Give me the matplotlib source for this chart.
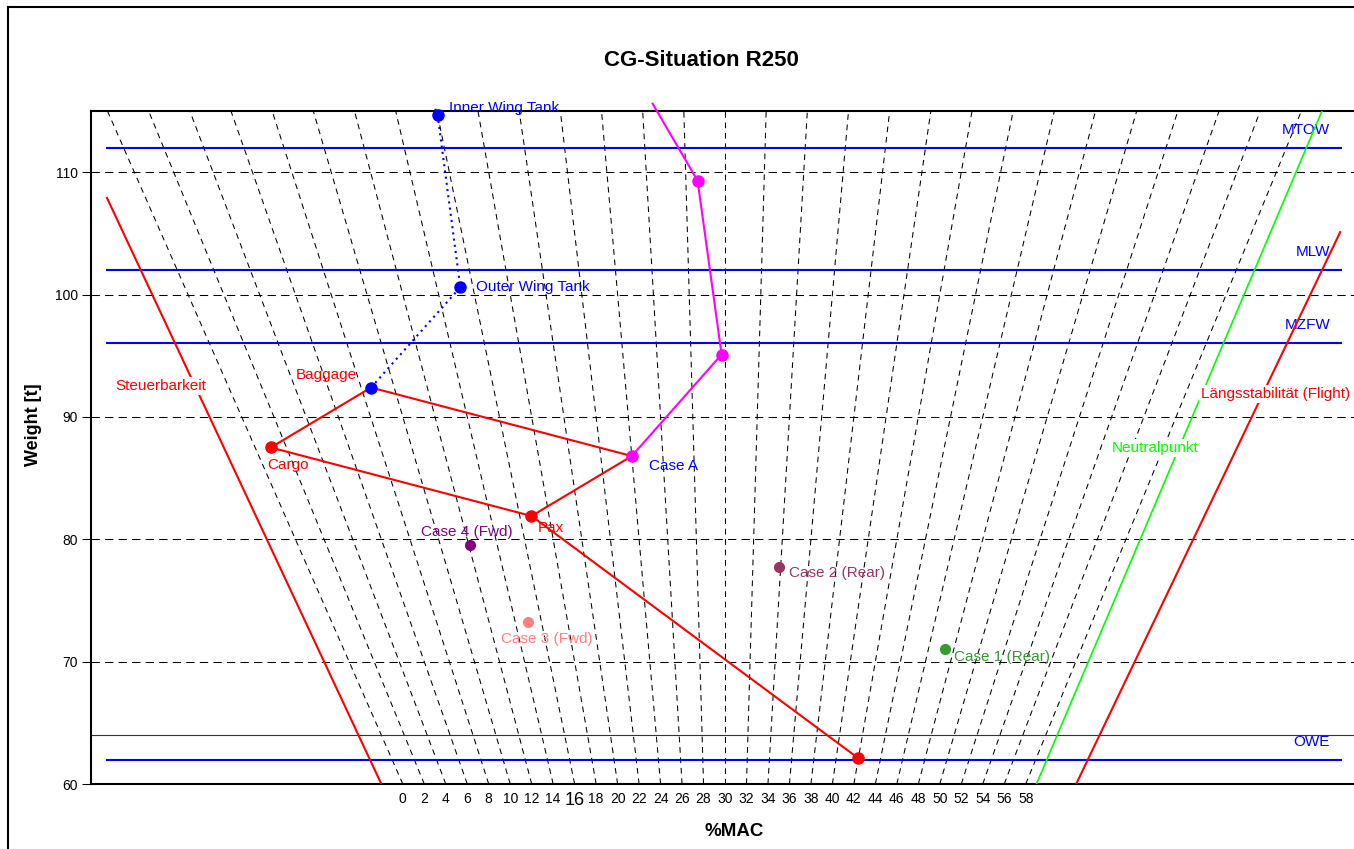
#!/usr/bin/env python3
"""Weight / %MAC loading diagram for the R250 CG situation."""

import matplotlib

matplotlib.use("Agg")
import matplotlib.pyplot as plt
from matplotlib.lines import Line2D

plt.rcParams["font.family"] = ["Liberation Sans", "DejaVu Sans"]

# %MAC fan lines and weight axis
MAC_GRID = list(range(0, 60, 2))
WEIGHT_TICKS = [60, 70, 80, 90, 100, 110]
WEIGHT_RANGE = (60, 115)

# weight limits [t]
LIMIT_NAMES = ["MTOW", "MLW", "MZFW", "OWE"]
LIMIT_WEIGHTS = [112, 102, 96, 62]
REFERENCE_WEIGHT = 64

# CG limit lines, constant %MAC over a weight span
FWD_LIMIT_MAC = -2.0
FWD_LIMIT_WEIGHTS = [60, 107.9]
AFT_LIMIT_MAC = 62.7
AFT_LIMIT_WEIGHTS = [60, 105.1]
NEUTRAL_MAC = 59.0
NEUTRAL_WEIGHTS = [60, 115]

# loading path: empty -> Pax -> Cargo -> Baggage -> Case A -> Pax
LOAD_MAC = [42.0, 16.8, 1.0, 8.6, 24.0, 16.8]
LOAD_WEIGHT = [62.1, 81.9, 87.5, 92.4, 86.8, 81.9]

# fuel: Baggage -> Outer Wing Tank -> Inner Wing Tank
FUEL_MAC = [8.6, 15.3, 16.0, 15.9]
FUEL_WEIGHT = [92.4, 100.6, 114.7, 115.5]

# Case A fuelling branch
CASE_A_MAC = [24.0, 29.8, 28.6, 26.5]
CASE_A_WEIGHT = [86.8, 95.1, 109.3, 115.6]

CASE_NAMES = ["Case 1 (Rear)", "Case 2 (Rear)", "Case 3 (Fwd)", "Case 4 (Fwd)"]
CASE_MAC = [47.3, 33.9, 15.0, 12.1]
CASE_WEIGHT = [71.0, 77.7, 73.2, 79.5]
CASE_COLORS = ["#339933", "#993366", "#FF8080", "#800080"]

MAC_REF = 30.0
XLIM = (-354.2, 351.4)
LIMIT_SPAN = (-345.0, 344.0)

FIG_W, FIG_H = 1354, 849
LABEL_SIZE = 11


def index(mac, weight):
    """Moment index for a CG position given in %MAC."""
    return weight * (mac - MAC_REF) / 10.0


def fx(px):
    return px / FIG_W


def fy(py):
    return 1 - py / FIG_H


def main() -> None:
    fig = plt.figure(figsize=(FIG_W / 100, FIG_H / 100), dpi=100)
    ax = fig.add_axes([fx(91), fy(784), 1 - fx(91), (784 - 111) / FIG_H])
    ax.set_xlim(*XLIM)
    ax.set_ylim(*WEIGHT_RANGE)

    # %MAC fan
    for mac in MAC_GRID:
        ws = list(WEIGHT_RANGE)
        ax.plot([index(mac, w) for w in ws], ws, color="black", lw=0.75,
                dashes=(5.5, 4.5), zorder=1)

    ax.set_yticks(WEIGHT_TICKS)
    ax.yaxis.grid(True, color="black", linewidth=0.75, linestyle=(0, (8, 5)))
    ax.set_axisbelow(True)
    ax.tick_params(axis="y", direction="out", length=6.5, width=0.75, pad=3,
                   labelsize=10)

    ax.set_xticks([index(mac, WEIGHT_RANGE[0]) for mac in MAC_GRID])
    ax.set_xticklabels([str(mac) for mac in MAC_GRID])
    ax.tick_params(axis="x", length=0, pad=6, labelsize=10)
    for label in ax.get_xticklabels():
        if label.get_text() == "16":
            label.set_fontsize(13)

    for side in ("left", "bottom", "top"):
        ax.spines[side].set_linewidth(1.5)
    ax.spines["right"].set_visible(False)

    ax.axhline(REFERENCE_WEIGHT, color="#333333", lw=0.8, zorder=2)

    # weight limits
    for name, w in zip(LIMIT_NAMES, LIMIT_WEIGHTS):
        ax.plot(LIMIT_SPAN, [w, w], color="#0000FF", lw=1.5, zorder=3)
        ax.annotate(name, (338, w), xytext=(0, 18), textcoords="offset pixels",
                    color="#0000FF", fontsize=LABEL_SIZE, ha="right",
                    va="center")

    # CG limits
    ax.plot([index(FWD_LIMIT_MAC, w) for w in FWD_LIMIT_WEIGHTS],
            FWD_LIMIT_WEIGHTS, color="#FF0000", lw=1.5, zorder=3)
    ax.plot([index(AFT_LIMIT_MAC, w) for w in AFT_LIMIT_WEIGHTS],
            AFT_LIMIT_WEIGHTS, color="#FF0000", lw=1.5, zorder=3)
    ax.plot([index(NEUTRAL_MAC, w) for w in NEUTRAL_WEIGHTS],
            NEUTRAL_WEIGHTS, color="#00FF00", lw=1.2, zorder=3)
    box = dict(facecolor="white", edgecolor="none", pad=1.5)
    ax.text(-315.1, 92.5, "Steuerbarkeit", color="#FF0000",
            fontsize=LABEL_SIZE, ha="center", va="center", bbox=box, zorder=4)
    ax.text(307.5, 91.9, "Längsstabilität (Flight)", color="#FF0000",
            fontsize=LABEL_SIZE, ha="center", va="center", bbox=box, zorder=4)
    ax.text(240.2, 87.45, "Neutralpunkt", color="#00FF00",
            fontsize=LABEL_SIZE, ha="center", va="center", bbox=box, zorder=4)

    # loading path
    load_x = [index(m, w) for m, w in zip(LOAD_MAC, LOAD_WEIGHT)]
    ax.plot(load_x, LOAD_WEIGHT, color="#FF0000", lw=1.5, zorder=5)
    ax.plot(load_x[:3], LOAD_WEIGHT[:3], "o", color="#FF0000", ms=8, zorder=6)

    fuel_x = [index(m, w) for m, w in zip(FUEL_MAC, FUEL_WEIGHT)]
    ax.plot(fuel_x, FUEL_WEIGHT, color="#0000FF", lw=1.5,
            linestyle=(0, (1, 2)), zorder=5, clip_on=False)
    ax.plot(fuel_x[:3], FUEL_WEIGHT[:3], "o", color="#0000FF", ms=8, zorder=6,
            clip_on=False)

    case_a_x = [index(m, w) for m, w in zip(CASE_A_MAC, CASE_A_WEIGHT)]
    ax.plot(case_a_x, CASE_A_WEIGHT, color="#FF00FF", lw=1.5, zorder=5,
            clip_on=False)
    ax.plot(case_a_x[:3], CASE_A_WEIGHT[:3], "o", color="#FF00FF", ms=8,
            zorder=6)

    point_labels = [
        ("Pax", load_x[1], LOAD_WEIGHT[1], (6, -12), "left", "#FF0000"),
        ("Cargo", load_x[2], LOAD_WEIGHT[2], (-4, -18), "left", "#FF0000"),
        ("Baggage", load_x[3], LOAD_WEIGHT[3], (-14, 13), "right", "#FF0000"),
        ("Case A", load_x[4], LOAD_WEIGHT[4], (17, -10), "left", "#0000FF"),
        ("Outer Wing Tank", fuel_x[1], FUEL_WEIGHT[1], (16, 0), "left", "#0000FF"),
        ("Inner Wing Tank", fuel_x[2], FUEL_WEIGHT[2], (11, 7), "left", "#0000FF"),
    ]
    for text, x, y, off, ha, color in point_labels:
        ax.annotate(text, (x, y), xytext=off, textcoords="offset pixels",
                    color=color, fontsize=LABEL_SIZE, ha=ha, va="center",
                    annotation_clip=False, zorder=4)

    # check cases
    case_offsets = [(9, -8, "left"), (10, -6, "left"), (18, -17, "center"),
                    (-3, 13, "center")]
    for name, m, w, color, (dx, dy, ha) in zip(CASE_NAMES, CASE_MAC,
                                               CASE_WEIGHT, CASE_COLORS,
                                               case_offsets):
        x = index(m, w)
        ax.plot([x], [w], "o", color=color, ms=7, zorder=6)
        ax.annotate(name, (x, w), xytext=(dx, dy), textcoords="offset pixels",
                    color=color, fontsize=LABEL_SIZE, ha=ha, va="center",
                    zorder=4)

    fig.text(fx(701), fy(61), "CG-Situation R250", fontsize=16,
             fontweight="bold", ha="center", va="center")
    fig.text(fx(734), fy(832), "%MAC", fontsize=13.5, fontweight="bold",
             ha="center", va="center")
    fig.text(fx(34), fy(425), "Weight [t]", fontsize=13, fontweight="bold",
             ha="center", va="center", rotation=90)

    # chart area border
    fig.add_artist(Line2D([fx(8), fx(8)], [0, fy(7)], color="black", lw=1.5))
    fig.add_artist(Line2D([fx(8), 1], [fy(7), fy(7)], color="black", lw=1.5))

    fig.savefig("out.png", dpi=100)


if __name__ == "__main__":
    main()
